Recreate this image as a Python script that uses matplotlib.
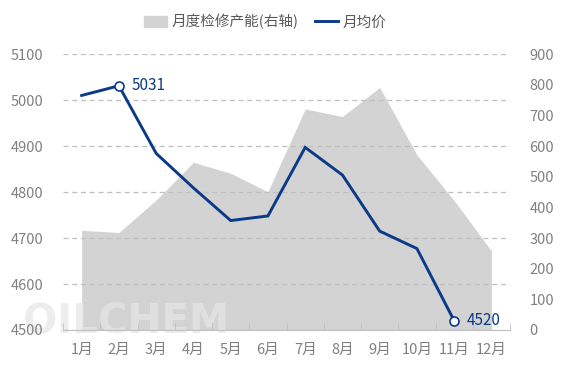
import numpy as np
import matplotlib.pyplot as plt
from matplotlib.patches import Patch
from matplotlib.lines import Line2D

plt.rcParams['font.family'] = ['Noto Sans CJK SC', 'DejaVu Sans']

# data
months = ['1月', '2月', '3月', '4月', '5月', '6月', '7月', '8月', '9月', '10月', '11月', '12月']
capacity = [325, 318, 424, 547, 511, 451, 721, 696, 791, 571, 422, 258]   # right axis
price = [5010, 5031, 4884, 4809, 4738, 4748, 4897, 4837, 4715, 4677, 4520]  # left axis

navy = '#0b3a87'
area_col = '#d3d3d3'
tick_col = '#808080'

fig = plt.figure(figsize=(5.68, 3.78), dpi=100)
ax = fig.add_axes([0.111, 0.127, 0.787, 0.730])
ax2 = ax.twinx()

x = np.arange(len(months))

# area on the right axis, drawn behind the price line
ax2.fill_between(x, capacity, 0, color=area_col, lw=0, zorder=1)
ax2.set_ylim(0, 900)
ax2.set_yticks(range(0, 901, 100))

ax.set_ylim(4500, 5100)
ax.set_yticks(range(4500, 5101, 100))
ax.set_xlim(-0.5, len(months) - 0.5)
ax.grid(axis='y', ls=(0, (4, 3)), color='#bfbfbf', lw=0.9)
ax.set_axisbelow(True)

# keep price line on top of area
ax.set_zorder(ax2.get_zorder() + 1)
ax.patch.set_visible(False)
px = np.arange(len(price))
ax.plot(px, price, color=navy, lw=2.1, zorder=3, solid_joinstyle='miter')
for i in (1, len(price) - 1):
    ax.plot(px[i], price[i], 'o', ms=6.5, mfc='white', mec=navy, mew=1.2, zorder=4)
    ax.annotate(str(price[i]), (px[i], price[i]), xytext=(9, 0), textcoords='offset points',
                va='center', ha='left', color=navy, fontsize=11)

ax.set_xticks(x)
ax.set_xticklabels(months)
ax.set_xticks(np.arange(-0.5, len(months)), minor=True)
ax.tick_params(axis='x', which='major', length=0, pad=9, labelsize=10.5, labelcolor=tick_col)
ax.tick_params(axis='x', which='minor', direction='in', length=5, color='#bfbfbf')
ax.tick_params(axis='y', length=0, pad=14, labelsize=10.5, labelcolor=tick_col)
ax2.tick_params(axis='y', length=0, pad=14, labelsize=10.5, labelcolor=tick_col)

for a in (ax, ax2):
    for s in ('top', 'left', 'right', 'bottom'):
        a.spines[s].set_visible(False)
ax.spines['bottom'].set_visible(True)
ax.spines['bottom'].set_color('#bfbfbf')

# watermark
fig.text(0.04, 0.118, 'OILCHEM', fontsize=29, fontweight='bold', color='#e6e6e6',
         alpha=0.7, family='DejaVu Sans', zorder=0)

handles = [Patch(color=area_col, label='月度检修产能(右轴)'),
           Line2D([], [], color=navy, lw=2.1, label='月均价')]
fig.legend(handles=handles, loc='center', bbox_to_anchor=(0.467, 0.942), ncol=2, frameon=False,
           fontsize=10.5, labelcolor='#595959', handlelength=1.6, handleheight=0.75,
           handletextpad=0.3, columnspacing=1.1)

fig.savefig('out.png', dpi=100)
